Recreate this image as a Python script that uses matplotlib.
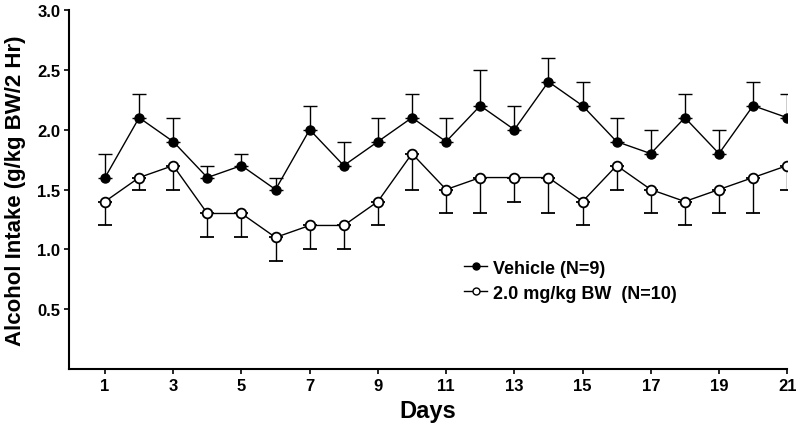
import matplotlib
matplotlib.use("Agg")
import matplotlib.pyplot as plt
from matplotlib.lines import Line2D

days = list(range(1, 22))
vehicle = [1.6, 2.1, 1.9, 1.6, 1.7, 1.5, 2.0, 1.7, 1.9, 2.1, 1.9, 2.2, 2.0, 2.4, 2.2, 1.9, 1.8, 2.1, 1.8, 2.2, 2.1]
vehicle_err = [0.2, 0.2, 0.2, 0.1, 0.1, 0.1, 0.2, 0.2, 0.2, 0.2, 0.2, 0.3, 0.2, 0.2, 0.2, 0.2, 0.2, 0.2, 0.2, 0.2, 0.2]
drug = [1.4, 1.6, 1.7, 1.3, 1.3, 1.1, 1.2, 1.2, 1.4, 1.8, 1.5, 1.6, 1.6, 1.6, 1.4, 1.7, 1.5, 1.4, 1.5, 1.6, 1.7]
drug_err = [0.2, 0.1, 0.2, 0.2, 0.2, 0.2, 0.2, 0.2, 0.2, 0.3, 0.2, 0.3, 0.2, 0.3, 0.2, 0.2, 0.2, 0.2, 0.2, 0.3, 0.2]
xticks = list(range(1, 22, 2))
yticks = [0.5, 1.0, 1.5, 2.0, 2.5, 3.0]
labels = ['Vehicle (N=9)', '2.0 mg/kg BW  (N=10)']

plt.rcParams['font.family'] = ['Liberation Sans', 'DejaVu Sans']
plt.rcParams['font.weight'] = 'bold'

fig = plt.figure(figsize=(8, 4.35), dpi=100)
ax = fig.add_axes([0.0865, 0.149, 0.8975, 0.826])

zeros = [0] * len(days)
ax.errorbar(days, vehicle, yerr=[zeros, vehicle_err], fmt='-o', color='black',
            mfc='black', mec='black', ms=6.5, lw=1.0, elinewidth=1.0, capsize=5, capthick=1.0,
            zorder=3)
ax.errorbar(days, drug, yerr=[drug_err, zeros], fmt='-o', color='black',
            mfc='white', mec='black', mew=1.3, ms=7, lw=1.0, elinewidth=1.0, capsize=5, capthick=1.0,
            zorder=3)

ax.set_xlim(-0.05, 21)
ax.set_ylim(0, 3.0)
ax.set_xticks(xticks)
ax.set_yticks(yticks)
ax.set_yticklabels([f"{v:.1f}" for v in yticks])
ax.spines['top'].set_visible(False)
ax.spines['right'].set_visible(False)
ax.spines['left'].set_linewidth(1.5)
ax.spines['bottom'].set_linewidth(1.5)
ax.tick_params(direction='out', length=3.5, width=1.2, labelsize=12, pad=3)
for lab in ax.get_xticklabels() + ax.get_yticklabels():
    lab.set_fontweight('bold')

ax.set_xlabel('Days', fontsize=17, fontweight='bold', labelpad=4)
ax.set_ylabel('Alcohol Intake (g/kg BW/2 Hr)', fontsize=16, fontweight='bold', labelpad=8)

handles = [
    Line2D([], [], color='black', lw=1.0, marker='o', ms=5, mfc='black', mec='black'),
    Line2D([], [], color='black', lw=1.0, marker='o', ms=5, mfc='white', mec='black', mew=1.0),
]
leg = ax.legend(handles, labels, loc='upper left', bbox_to_anchor=(0.527, 0.35), frameon=False,
                fontsize=13, handlelength=1.3, handletextpad=0.3, labelspacing=0.45)
for t in leg.get_texts():
    t.set_fontweight('bold')

fig.savefig('out.png', dpi=100)
